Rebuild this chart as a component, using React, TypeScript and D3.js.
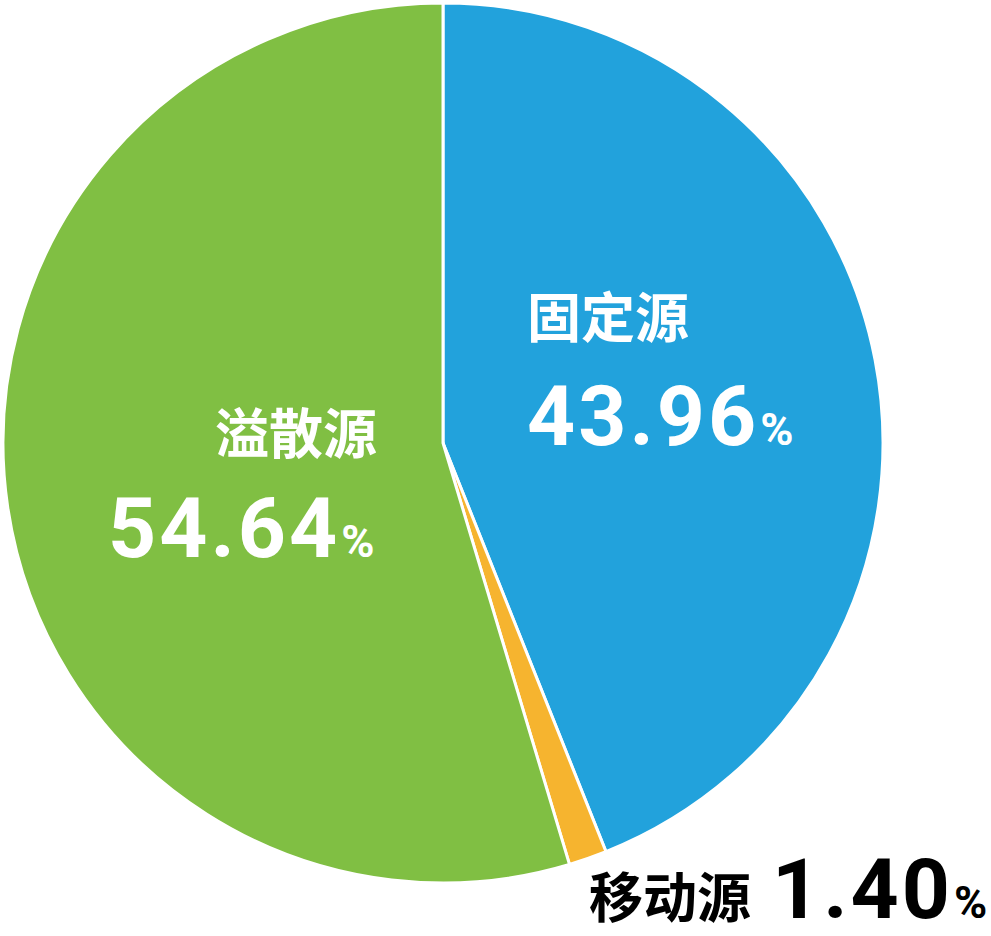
import React from 'react';
import * as d3 from 'd3';

const categories = ['固定源', '移动源', '溢散源'];
const values = [43.96, 1.4, 54.64];
const valueLabels = ['43.96', '1.40', '54.64'];
const colors = ['#22a2dc', '#f6b42f', '#80bf43'];

const width = 991;
const height = 936;
const cx = 443;
const cy = 443;
const radius = 440;

const App: React.FC = () => {
  const pie = d3.pie<number>().sort(null).value(d => d);
  const arcs = pie(values);
  const arc = d3.arc<d3.PieArcDatum<number>>().innerRadius(0).outerRadius(radius);

  const cjk = '"Noto Sans CJK SC", "Noto Sans", sans-serif';
  const num = 'Roboto, "Noto Sans", sans-serif';

  // label placements (name, number) for each slice
  const labelPos = [
    { nameX: 527, nameY: 338, numX: 527, numY: 445, anchor: 'start', fill: '#fff' },
    { nameX: 589, nameY: 918, numX: 772, numY: 918, anchor: 'start', fill: '#000' },
    { nameX: 377, nameY: 454, numX: 108, numY: 557, anchor: 'end', fill: '#fff' },
  ];

  return (
    <svg width={width} height={height} style={{ position: 'absolute', left: 0, top: 0 }}>
      <rect width={width} height={height} fill="#fff" />
      <g transform={`translate(${cx},${cy})`}>
        {arcs.map((a, i) => (
          <path key={categories[i]} d={arc(a) || ''} fill={colors[i]} stroke="#fff" strokeWidth={3} />
        ))}
      </g>
      {categories.map((c, i) => {
        const p = labelPos[i];
        return (
          <g key={c} fill={p.fill}>
            <text x={p.nameX} y={p.nameY} textAnchor={p.anchor} fontFamily={cjk} fontWeight={700} fontSize={54}>
              {c}
            </text>
            <text x={p.numX} y={p.numY} fontFamily={num} fontWeight={700} fontSize={84}>
              <tspan letterSpacing={3}>{valueLabels[i]}</tspan>
              <tspan fontSize={45} dx={1}>%</tspan>
            </text>
          </g>
        );
      })}
    </svg>
  );
};

export default App;
